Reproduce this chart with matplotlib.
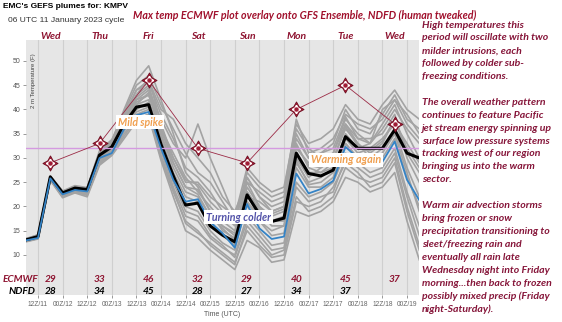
import matplotlib
matplotlib.use("Agg")
import matplotlib.pyplot as plt
import matplotlib.transforms as mtransforms
import numpy as np

# ---------------- data ----------------
hours = list(range(0, 193, 6))  # 06Z/11 .. 06Z/19, 6-hourly

control = [13.1, 13.8, 26.1, 22.8, 23.8, 23.5, 30.6, 32.3, 37.0, 40.5, 41.0, 32.8,
           26.3, 20.3, 20.7, 16.0, 14.1, 12.7, 22.4, 18.4, 16.9, 17.6, 31.0, 26.8,
           26.3, 27.5, 34.4, 32.0, 32.0, 32.0, 35.8, 31.0, 30.0]
ens_mean = [13.0, 13.5, 25.8, 22.5, 23.4, 23.1, 30.0, 31.0, 36.0, 38.8, 39.5, 32.0,
            25.5, 21.0, 21.5, 16.8, 14.5, 11.5, 20.5, 15.5, 13.3, 13.8, 26.8, 22.7,
            23.6, 25.3, 32.3, 30.0, 29.6, 29.2, 33.4, 25.5, 21.3]

members = [
    [13.0,13.6,25.9,22.6,23.6,23.3, 30.2,32.8,38.5,43.0,45.0,36.0, 29.0,24.0,22.5,18.0,15.5,13.0, 24.0,20.0,18.0,19.0,33.0,28.0, 27.0,29.0,37.0,33.0,31.0,33.0, 38.0,32.0,28.0],
    [13.3,14.0,26.2,23.0,24.0,23.8, 31.0,33.5,40.0,46.0,49.0,42.0, 35.0,27.0,24.0,19.0,16.0,14.0, 26.0,22.0,19.0,20.0,34.0,30.0, 31.0,33.0,40.0,36.0,35.0,39.0, 43.0,38.0,36.0],
    [12.8,13.4,25.5,22.0,23.0,22.5, 29.0,31.0,35.0,38.0,39.0,30.0, 23.0,17.0,15.0,12.0,10.0,8.0, 16.0,13.0,10.0,11.0,22.0,19.0, 20.0,22.0,28.0,26.0,25.0,26.0, 30.0,20.0,12.0],
    [13.1,13.9,26.0,22.8,23.8,23.4, 30.5,32.0,37.0,42.0,44.0,38.0, 33.0,30.0,37.0,30.0,24.0,18.0, 20.0,17.0,15.0,16.0,29.0,25.0, 26.0,28.0,35.0,32.0,33.0,37.0, 41.0,35.0,30.0],
    [12.9,13.5,25.7,22.3,23.2,22.8, 29.5,31.5,36.0,40.0,41.5,33.0, 26.0,20.0,19.0,15.0,12.5,11.0, 21.0,17.0,14.0,14.5,28.0,24.0, 24.0,26.0,33.0,30.0,29.0,30.0, 34.0,26.0,20.0],
    [13.2,14.2,26.3,23.2,24.3,23.9, 31.5,33.8,39.0,44.0,46.0,40.0, 38.0,33.0,30.0,27.0,22.0,19.0, 25.0,23.0,21.0,22.0,36.0,32.0, 30.0,31.0,38.0,35.0,33.0,36.0, 40.0,36.0,33.0],
    [13.0,13.7,25.8,22.5,23.5,23.0, 29.8,31.8,36.5,41.0,42.0,34.0, 27.0,22.0,21.0,17.0,14.0,12.0, 23.0,19.0,16.0,16.0,30.0,26.0, 28.0,30.0,36.0,33.0,30.0,32.0, 36.0,28.0,22.0],
    [13.4,14.1,26.1,22.9,23.9,23.6, 30.8,33.0,38.0,43.0,46.5,37.0, 30.0,25.0,25.0,22.0,20.0,18.0, 28.0,25.0,23.0,24.0,37.0,33.0, 34.0,36.0,41.0,38.0,37.0,41.0, 44.0,40.0,38.0],
    [12.7,13.3,25.4,21.8,22.8,22.0, 28.5,30.5,34.0,37.5,38.5,29.5, 22.0,15.0,13.5,11.0,9.0,7.0, 13.0,11.5,8.5,9.0,19.0,18.0, 19.0,21.0,26.0,25.0,23.0,24.0, 27.0,17.0,9.0],
    [13.1,13.8,26.0,22.7,23.7,23.4, 30.3,32.5,37.5,42.5,44.5,35.0, 28.0,23.0,22.0,18.0,16.0,14.5, 22.0,21.0,19.0,20.0,32.0,29.0, 29.0,31.0,37.0,34.0,34.0,35.0, 39.0,30.0,25.0],
    [13.0,13.6,25.9,22.4,23.3,22.9, 29.7,31.7,36.0,39.5,40.5,31.5, 24.0,18.0,17.0,13.5,11.5,10.0, 18.0,15.0,12.0,12.5,25.0,22.0, 23.0,25.0,31.0,29.0,27.0,28.0, 32.0,23.0,16.0],
    [13.2,14.0,26.2,23.1,24.1,23.7, 31.2,33.2,39.5,45.0,47.0,41.0, 36.0,31.0,27.0,25.0,21.0,17.0, 27.0,24.0,22.0,23.0,38.0,31.0, 32.0,34.0,39.0,37.0,36.0,38.0, 42.0,37.0,34.0],
    [12.9,13.5,25.6,22.2,23.1,22.6, 29.2,31.2,35.5,39.0,40.0,32.0, 25.0,19.0,18.0,14.0,12.0,9.5, 17.0,14.0,11.0,11.5,24.0,21.0, 22.0,23.0,30.0,28.0,26.0,27.0, 31.0,22.0,14.0],
    [13.1,13.9,26.1,22.8,23.8,23.5, 30.6,32.6,37.8,42.0,43.0,36.0, 31.0,26.0,23.0,20.0,17.0,15.0, 25.0,20.0,17.0,18.0,31.0,27.0, 27.0,28.0,34.0,31.0,32.0,34.0, 37.0,33.0,29.0],
    [13.0,13.7,25.8,22.6,23.6,23.2, 30.0,32.0,37.0,41.0,43.5,34.5, 29.0,24.0,23.5,19.0,15.0,13.5, 21.0,18.0,17.0,17.0,29.5,24.5, 25.0,27.0,33.0,30.0,30.0,31.0, 35.0,27.0,19.0],
    [13.3,14.1,26.2,23.0,24.0,23.7, 31.0,33.3,38.5,44.0,45.5,39.0, 34.0,28.0,26.0,23.0,19.0,16.5, 26.0,22.0,20.0,21.0,35.0,30.0, 31.0,32.0,38.5,34.0,33.0,40.0, 42.0,39.0,35.0],
    [12.8,13.4,25.6,22.1,23.0,22.3, 28.8,30.8,34.5,38.0,39.0,30.5, 23.5,16.5,14.5,12.5,10.5,8.5, 15.0,12.0,9.5,10.0,21.0,20.0, 21.0,24.0,29.0,27.0,24.0,25.0, 29.0,19.0,11.0],
    [13.1,13.8,26.0,22.7,23.7,23.3, 30.4,32.2,37.2,41.5,43.0,35.5, 30.0,25.5,24.5,21.0,18.5,16.0, 23.0,19.5,18.5,19.5,32.5,28.5, 28.0,29.5,36.5,32.5,31.5,33.5, 38.0,31.0,27.0],
]

day_hours = [12, 36, 60, 84, 108, 132, 156, 180]
day_names = ["Wed", "Thu", "Fri", "Sat", "Sun", "Mon", "Tue", "Wed"]
ecmwf = [29, 33, 46, 32, 29, 40, 45, 37]
ndfd = [28, 34, 45, 28, 27, 34, 37]

tick_hours = list(range(6, 187, 12))
tick_labels = ["12Z/11", "00Z/12", "12Z/12", "00Z/13", "12Z/13", "00Z/14", "12Z/14",
               "00Z/15", "12Z/15", "00Z/16", "12Z/16", "00Z/17", "12Z/17", "00Z/18",
               "12Z/18", "00Z/19"]
y_ticks = [10, 15, 20, 25, 30, 35, 40, 45, 50]
freezing = 32

side_text = [
    "High temperatures this",
    "period will oscillate with two",
    "milder intrusions, each",
    "followed by colder sub-",
    "freezing conditions.",
    "",
    "The overall weather pattern",
    "continues to feature Pacific",
    "jet stream energy spinning up",
    "surface low pressure systems",
    "tracking west of our region",
    "bringing us into the warm",
    "sector.",
    "",
    "Warm air advection storms",
    "bring frozen or snow",
    "precipitation transitioning to",
    "sleet/freezing rain and",
    "eventually all rain late",
    "Wednesday night into Friday",
    "morning...then back to frozen",
    "possibly mixed precip (Friday",
    "night-Saturday).",
]

# ---------------- figure ----------------
W, H = 562, 322
fig = plt.figure(figsize=(W / 100, H / 100), dpi=100)
fig.patch.set_facecolor("white")

def fx(x):
    return x / W

def fy(y):
    return 1 - y / H

ax = fig.add_axes([fx(25.7), fy(295), (419.3 - 25.7) / W, (295 - 40) / H])
ax.set_facecolor("#e6e6e6")
for s in ax.spines.values():
    s.set_visible(False)
ax.set_xlim(0, 192)
ax.set_ylim(1.75, 54.33)

for t in tick_hours:
    ax.axvline(t, color="#cfcfcf", lw=0.8, zorder=0)

DR = "#8e1431"
SIDE = "#86163a"
ORANGE = "#f0a050"
SANS = ["Liberation Sans", "DejaVu Sans"]
ITAL = ["Lato", "DejaVu Sans"]

for m in members:
    ax.plot(hours, m, color="#a3a3a3", lw=1.2, zorder=2)
ax.plot(hours, control, color="black", lw=2.2, zorder=3)
ax.plot(hours, ens_mean, color="#3483c6", lw=1.3, zorder=4)

ax.axhline(freezing, color="#d49ae0", lw=1.0, zorder=3.5)

# ECMWF overlay
ax.plot(day_hours, ecmwf, color="#9b2a45", lw=0.6, zorder=5)
ax.plot(day_hours, ecmwf, ls="none", marker=(4, 1, 0), ms=11, mfc="#a01c35",
        mec="#6e0f22", mew=0.6, zorder=6)
ax.plot(day_hours, ecmwf, ls="none", marker=(4, 1, 0), ms=6, mfc="white",
        mec="white", zorder=7)
ax.plot(day_hours, ecmwf, ls="none", marker="o", ms=2.2, mfc="#a01c35",
        mec="#a01c35", zorder=8)

# ticks
ax.set_yticks(y_ticks)
ax.set_yticklabels([str(v) for v in y_ticks], fontsize=5, color="#555555", family=SANS)
ax.set_xticks(tick_hours)
ax.set_xticklabels(tick_labels, fontsize=4.8, color="#666666", family=SANS)
ax.tick_params(axis="both", direction="out", length=2.5, width=0.6, color="#888888", pad=1.5)

# y label inside panel
ax.text(3.6, 51.5, "2 m Temperature (F)", rotation=90, fontsize=4.3, color="#444444",
        ha="center", va="top", family=SANS)

# day labels above panel
trans = mtransforms.blended_transform_factory(ax.transData, ax.transAxes)
for h, d in zip(day_hours, day_names):
    ax.text(h, 1.012, d, transform=trans, ha="center", va="center", fontsize=7.5,
            color=DR, fontweight="bold", fontstyle="italic", family=ITAL, clip_on=False)

# daily values
for h, v in zip(day_hours, ecmwf):
    ax.text(h, 5.0, str(v), ha="center", va="center", fontsize=7.3, color=DR,
            fontweight="bold", fontstyle="italic", family=ITAL, zorder=9)
for h, v in zip(day_hours, ndfd):
    ax.text(h, 2.4, str(v), ha="center", va="center", fontsize=7.3, color="black",
            fontweight="bold", fontstyle="italic", family=ITAL, zorder=9)
fig.text(fx(3), fy(279), "ECMWF", ha="left", va="center", fontsize=7.3, color=DR,
         fontweight="bold", fontstyle="italic", family=ITAL)
fig.text(fx(9), fy(292), "NDFD", ha="left", va="center", fontsize=7.3, color="black",
         fontweight="bold", fontstyle="italic", family=ITAL)

# annotations
box = dict(boxstyle="square,pad=0.15", fc="white", ec="none")
ax.text(55.8, 37.4, "Mild spike", ha="center", va="center", fontsize=7.6, color=ORANGE,
        fontweight="bold", fontstyle="italic", family=ITAL, bbox=box, zorder=10)
ax.text(156.2, 29.6, "Warming again", ha="center", va="center", fontsize=7.8, color=ORANGE,
        fontweight="bold", fontstyle="italic", family=ITAL, bbox=box, zorder=10)
ax.text(103.8, 17.8, "Turning colder", ha="center", va="center", fontsize=7.7, color="#5252a8",
        fontweight="bold", fontstyle="italic", family=ITAL, bbox=box, zorder=10)

# x label
fig.text(fx(222.5), fy(315), "Time (UTC)", ha="center", va="center", fontsize=5,
         color="#555555", family=SANS)

# titles
fig.text(fx(3), fy(7), "EMC's GEFS plumes for: KMPV", ha="left", va="center",
         fontsize=6.0, fontweight="bold", color="black", family=SANS)
fig.text(fx(8), fy(20), "06 UTC 11 January 2023 cycle", ha="left", va="center",
         fontsize=6.1, color="#333333", family=SANS)
fig.text(fx(133), fy(15), "Max temp ECMWF plot overlay onto GFS Ensemble, NDFD (human tweaked)",
         ha="left", va="center", fontsize=7.65, color="#a0102c", fontweight="bold",
         fontstyle="italic", family=ITAL)

# side text
for i, line in enumerate(side_text):
    if line:
        fig.text(fx(422), fy(25 + 12.9 * i), line, ha="left", va="center", fontsize=7.55,
                 color=SIDE, fontweight="bold", fontstyle="italic", family=ITAL)

fig.savefig("out.png", dpi=100, facecolor="white")
